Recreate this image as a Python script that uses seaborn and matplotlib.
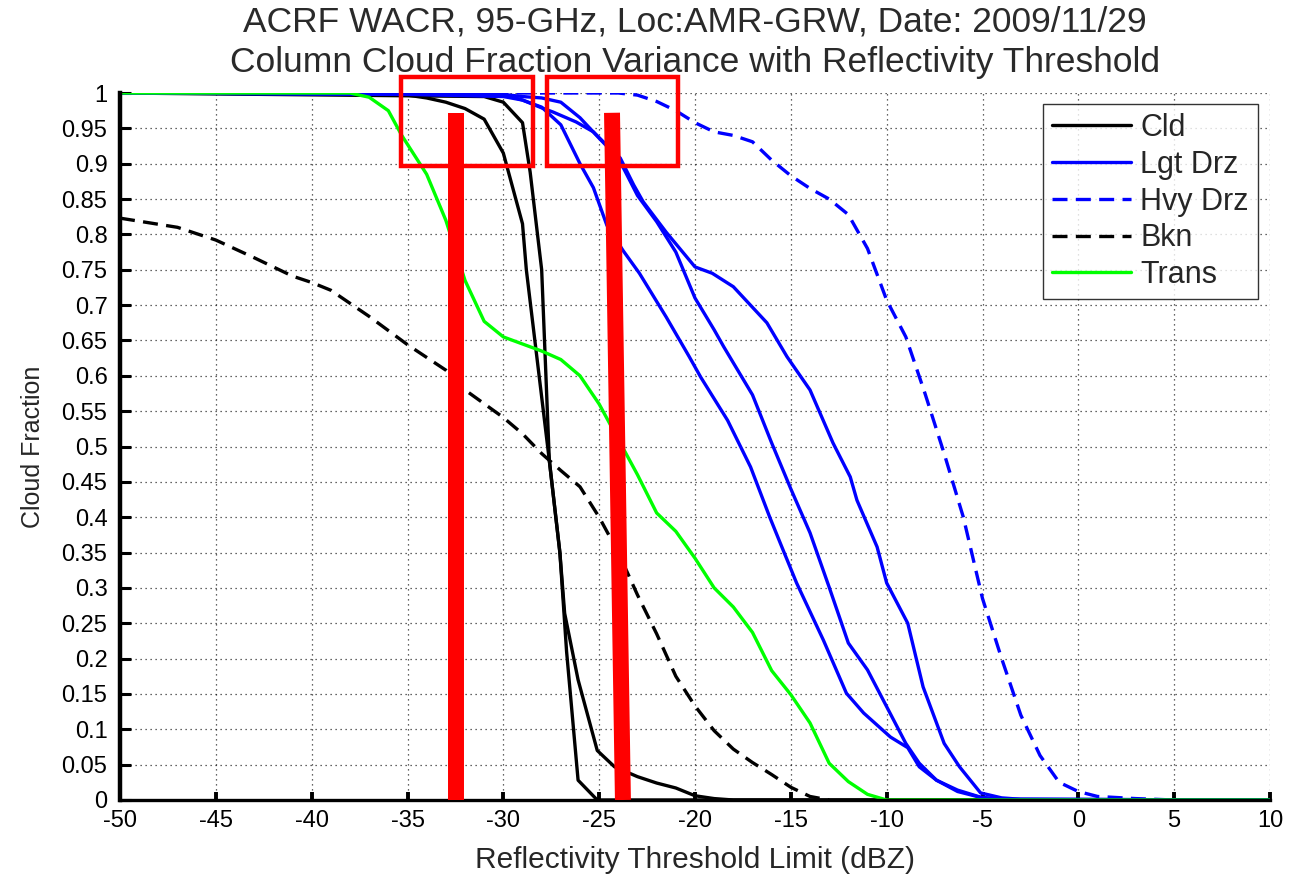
import numpy as np
import pandas as pd
import matplotlib
matplotlib.use("Agg")
import matplotlib.pyplot as plt
from matplotlib.patches import Rectangle
import seaborn as sns

# ---------------- data ----------------
cld1_x = [-50, -40, -36, -35, -34, -33, -32, -31, -30, -29, -28.8, -27.6, -27.05, -26.7, -26.1, -25.1, 10]
cld1_y = [1.0, 1.0, 0.999, 0.997, 0.993, 0.987, 0.978, 0.963, 0.915, 0.815, 0.75, 0.48, 0.35, 0.21, 0.028, 0.0, 0.0]

cld2_x = [-50, -31, -30, -29, -28.6, -28, -27.6, -27.05, -26.8, -26.1, -25.1, -24.2, -23, -22, -21, -20, -19, -18, 10]
cld2_y = [1.0, 0.995, 0.987, 0.958, 0.888, 0.75, 0.48, 0.35, 0.264, 0.17, 0.07, 0.047, 0.033, 0.024, 0.017, 0.006, 0.002, 0.0, 0.0]

lgt1_x = [-50, -35, -30, -29, -28, -27, -26, -25.3, -24.6, -23.75, -22.9, -21.5, -20.3, -19.7, -18.3, -17.1, -16.1,
          -15.5, -14.7, -13.3, -12.1, -11.2, -9.8, -8.9, -8.3, -7.4, -6.3, -5.1, -4, 10]
lgt1_y = [1.0, 0.998, 0.995, 0.99, 0.98, 0.955, 0.9, 0.866, 0.813, 0.777, 0.745, 0.683, 0.627, 0.598, 0.537, 0.471, 0.40,
          0.36, 0.307, 0.226, 0.151, 0.123, 0.089, 0.074, 0.047, 0.028, 0.014, 0.004, 0.001, 0.0]

lgt2_x = [-50, -30, -29, -28, -27, -26, -25, -24, -23, -22, -21, -20, -19, -18.5, -17, -16, -15, -14, -13, -12, -11,
          -10, -9, -8.3, -7.4, -6.3, -5, -4, 10]
lgt2_y = [1.0, 0.998, 0.995, 0.993, 0.987, 0.965, 0.936, 0.908, 0.855, 0.818, 0.775, 0.71, 0.665, 0.641, 0.573, 0.505,
          0.44, 0.378, 0.301, 0.222, 0.184, 0.132, 0.08, 0.052, 0.028, 0.012, 0.003, 0.001, 0.0]

lgt3_x = [-50, -30, -29, -28, -27.4, -26.2, -25.3, -24.6, -23.9, -23.2, -22.7, -21.5, -20, -19.1, -18, -16.25, -15.2,
          -14, -12.8, -11.9, -11.55, -10.5, -10, -8.9, -8.1, -7, -6.2, -5.1, -4, -3, 10]
lgt3_y = [1.0, 0.998, 0.99, 0.979, 0.973, 0.959, 0.945, 0.926, 0.908, 0.87, 0.846, 0.803, 0.754, 0.745, 0.726, 0.675,
          0.627, 0.58, 0.505, 0.457, 0.424, 0.358, 0.307, 0.25, 0.16, 0.08, 0.047, 0.01, 0.003, 0.001, 0.0]

hvy_x = [-50, -26, -24, -23, -22, -21, -20, -19, -18, -17, -16, -15, -14, -13, -12, -11, -10, -9, -8, -7, -6, -5, -4,
         -3, -2, -1, 0, 1, 3, 5, 10]
hvy_y = [1.0, 1.0, 1.0, 0.997, 0.988, 0.975, 0.958, 0.945, 0.94, 0.931, 0.905, 0.883, 0.865, 0.85, 0.828, 0.78, 0.707,
         0.655, 0.575, 0.49, 0.40, 0.285, 0.20, 0.12, 0.063, 0.025, 0.012, 0.005, 0.002, 0.0, 0.0]

bkn_x = [-50, -47, -45, -43, -41, -40, -39, -37, -35, -33, -32, -30, -29, -28, -27, -26, -25, -24, -23, -22, -21, -20,
         -19, -18, -17, -16, -15, -14, -13]
bkn_y = [0.823, 0.81, 0.792, 0.767, 0.741, 0.732, 0.721, 0.684, 0.644, 0.608, 0.58, 0.541, 0.518, 0.49, 0.466, 0.443,
         0.40, 0.35, 0.29, 0.235, 0.175, 0.133, 0.098, 0.072, 0.053, 0.036, 0.018, 0.005, 0.0]

trans_x = [-50, -38, -37, -36, -35.3, -34, -33, -32, -31, -30, -29, -28, -27, -26, -25, -24, -23, -22, -21, -20, -19,
           -18, -17, -16, -15, -14, -13, -12, -11, -10, 10]
trans_y = [1.0, 1.0, 0.994, 0.975, 0.94, 0.885, 0.82, 0.735, 0.677, 0.655, 0.645, 0.635, 0.623, 0.60, 0.56, 0.51, 0.46,
           0.406, 0.38, 0.342, 0.30, 0.273, 0.237, 0.183, 0.149, 0.109, 0.052, 0.026, 0.008, 0.0, 0.0]

# red annotation markers (dBZ, fraction)
bar1_x = [-32.45, -32.45]
bar1_y = [0.972, 0.0]
bar2_x = [-24.33, -23.76]
bar2_y = [0.972, 0.0]
box1 = [-35.34, 0.8967, -28.45, 1.0226]
box2 = [-27.72, 0.8967, -20.89, 1.0226]

x_ticks = list(range(-50, 11, 5))
y_ticks = [round(v * 0.05, 2) for v in range(21)]

# ---------------- plot ----------------
sns.set_theme(style="white")
plt.rcParams["font.family"] = ["Liberation Sans", "DejaVu Sans"]

fig = plt.figure(figsize=(12.99, 8.74), dpi=100)
ax = fig.add_axes([120 / 1299, 74 / 874, 1150 / 1299, 707 / 874])

LW = 2.4
dash = (0, (4.5, 2.5))

def draw(xs, ys, color, label=None, ls="-"):
    df = pd.DataFrame({"x": xs, "y": ys})
    sns.lineplot(data=df, x="x", y="y", ax=ax, color=color, linewidth=LW, sort=False,
                 estimator=None, label=label, linestyle=ls, legend=False)

draw(cld1_x, cld1_y, "black", "Cld")
draw(cld2_x, cld2_y, "black")
draw(lgt1_x, lgt1_y, (0, 0, 1), "Lgt Drz")
draw(lgt2_x, lgt2_y, (0, 0, 1))
draw(lgt3_x, lgt3_y, (0, 0, 1))
draw(hvy_x, hvy_y, (0, 0, 1), "Hvy Drz", ls=dash)
draw(bkn_x, bkn_y, "black", "Bkn", ls=dash)
draw(trans_x, trans_y, (0, 1, 0), "Trans")

# red annotations
ax.plot(bar1_x, bar1_y, color="red", linewidth=11.5, solid_capstyle="butt", zorder=5)
ax.plot(bar2_x, bar2_y, color="red", linewidth=11.5, solid_capstyle="butt", zorder=5)
for b in (box1, box2):
    ax.add_patch(Rectangle((b[0], b[1]), b[2] - b[0], b[3] - b[1], fill=False,
                           edgecolor="red", linewidth=3.2, clip_on=False, zorder=6))

ax.set_xlim(-50, 10)
ax.set_ylim(0, 1)
ax.set_xticks(x_ticks)
ax.set_yticks(y_ticks)
ax.set_xticklabels([str(v) for v in x_ticks])
ax.set_yticklabels([("%g" % v) for v in y_ticks])

ax.grid(True, color="black", linestyle=(0, (1, 3)), linewidth=0.9, alpha=0.8)
for s in ("top", "right"):
    ax.spines[s].set_visible(False)
ax.spines["left"].set_linewidth(3.2)
ax.spines["bottom"].set_linewidth(2.4)
ax.spines["left"].set_color("black")
ax.spines["bottom"].set_color("black")

ax.tick_params(axis="y", direction="in", length=8, width=2.2, left=True, pad=9, labelsize=17, colors="black")
ax.tick_params(axis="x", direction="in", length=6, width=2.8, bottom=True, pad=7, labelsize=17, colors="black")

ax.set_xlabel("Reflectivity Threshold Limit (dBZ)", fontsize=21.5, labelpad=10)
ax.set_ylabel("Cloud Fraction", fontsize=18, labelpad=12)
ax.set_title("ACRF WACR, 95-GHz, Loc:AMR-GRW, Date: 2009/11/29\nColumn Cloud Fraction Variance with Reflectivity Threshold",
             fontsize=25.5, color="#2a2a2a", pad=15, linespacing=1.3)

leg = ax.legend(loc="upper right", bbox_to_anchor=(1258 / 1299, 1 - 104 / 874), bbox_transform=fig.transFigure,
                fontsize=22, frameon=True, fancybox=False, handlelength=2.6, handletextpad=0.3,
                borderpad=0.3, labelspacing=0.22, borderaxespad=0)
leg.get_frame().set_edgecolor("black")
leg.get_frame().set_linewidth(1.0)
leg.set_zorder(10)

fig.savefig("out.png", dpi=100, facecolor="white")
